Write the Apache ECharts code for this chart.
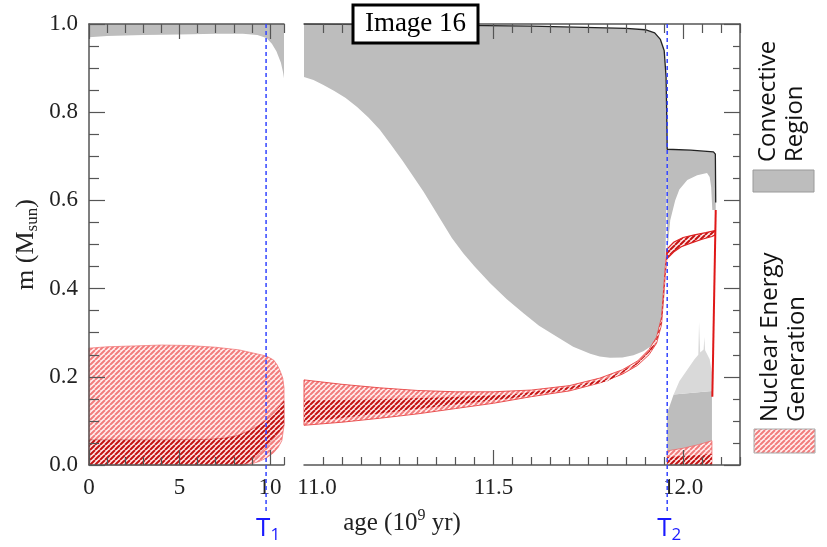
<!DOCTYPE html>
<html>
<head>
<meta charset="UTF-8">
<title>Kippenhahn diagram</title>
<script src="https://cdn.jsdelivr.net/npm/echarts@6/dist/echarts.min.js"></script>
<style>
  html, body { margin: 0; padding: 0; background: #fff; }
  #chart { width: 827px; height: 547px; }
</style>
</head>
<body>
<div id="chart"></div>
<script>
// ---- data: age in 10^9 yr, m in Msun ----
// ticks
const leftTicksMajor = [0, 5, 10];
const leftTicksMinor = [1, 2, 3, 4, 6, 7, 8, 9, 10.77];
const rightLabels = [11.0, 11.5, 12.0];
const rightTicksMajor = [11.5, 12.0];
const rightTicksMinor = [11.05, 11.1, 11.15, 11.2, 11.25, 11.3, 11.35, 11.4, 11.45, 11.55, 11.6, 11.65,
  11.7, 11.75, 11.8, 11.85, 11.9, 11.95, 12.05, 12.1, 12.15];

// left panel (main sequence)
const leftEnvTop = [[0, 1.0], [10.77, 1.0]];
const leftEnvBase = [[10.77, 0.877], [10.72, 0.89], [10.6, 0.912], [10.35, 0.938], [10.1, 0.955], [9.8, 0.968],
  [9.3, 0.975], [8.5, 0.978], [7, 0.978], [5, 0.976], [3, 0.975], [1, 0.973], [0, 0.97]];
const leftNucOuter = [[0, 0], [0, 0.265], [1, 0.268], [2.5, 0.27], [4, 0.272], [5.5, 0.271], [7, 0.267],
  [8.3, 0.261], [9.8, 0.247], [10.2, 0.238], [10.39, 0.227], [10.55, 0.214], [10.7, 0.197], [10.77, 0.175],
  [10.77, 0.09], [10.65, 0.055], [10.45, 0.04], [10.2, 0.028], [9.8, 0.016], [9.4, 0.008], [9.0, 0.003], [8.6, 0]];
const leftNucInner = [[0, 0], [0, 0.057], [4, 0.057], [6.5, 0.058], [7.5, 0.061], [8.2, 0.067], [8.8, 0.077],
  [9.3, 0.088], [9.8, 0.102], [10.3, 0.122], [10.77, 0.145], [10.77, 0.09], [10.5, 0.074], [10.2, 0.06],
  [9.7, 0.038], [9.2, 0.018], [8.7, 0.004], [8.4, 0]];

// right panel (red giant branch and after)
const rightEnvTop = [[11.0, 1.0], [11.3, 0.998], [11.6, 0.995], [11.85, 0.99], [11.9, 0.987], [11.925, 0.98],
  [11.94, 0.965], [11.95, 0.94], [11.955, 0.88], [11.957, 0.78], [11.958, 0.716]];
const rightEnvBase = [[11.958, 0.716], [11.956, 0.6], [11.953, 0.449], [11.95, 0.38], [11.945, 0.336],
  [11.935, 0.3], [11.925, 0.281], [11.913, 0.268], [11.895, 0.258], [11.869, 0.249], [11.84, 0.244],
  [11.807, 0.243], [11.78, 0.246], [11.755, 0.252], [11.71, 0.268], [11.667, 0.291], [11.62, 0.316],
  [11.579, 0.344], [11.535, 0.376], [11.491, 0.412], [11.45, 0.45], [11.42, 0.48], [11.39, 0.515],
  [11.365, 0.55], [11.34, 0.585], [11.315, 0.62], [11.29, 0.652], [11.26, 0.69], [11.227, 0.729],
  [11.2, 0.76], [11.17, 0.788], [11.14, 0.812], [11.11, 0.832], [11.08, 0.848], [11.05, 0.862],
  [11.025, 0.873], [11.0, 0.88]];
const postUpperGray = [[11.958, 0.716], [12.02, 0.714], [12.08, 0.71], [12.086, 0.705], [12.086, 0.578],
  [12.077, 0.578], [12.074, 0.63], [12.07, 0.653], [12.063, 0.662], [12.037, 0.657], [12.011, 0.646],
  [11.99, 0.625], [11.979, 0.6], [11.966, 0.555], [11.96, 0.5], [11.958, 0.48]];
const postLowerDark = [[11.958, 0.03], [11.958, 0.118], [11.975, 0.16], [12.076, 0.168], [12.076, 0.03]];
const postLowerLight = [[11.975, 0.16], [11.99, 0.19], [12.01, 0.215], [12.03, 0.24], [12.04, 0.25],
  [12.042, 0.324], [12.045, 0.255], [12.054, 0.262], [12.056, 0.29], [12.058, 0.26], [12.07, 0.24],
  [12.076, 0.21], [12.076, 0.168]];
const postNucOuter = [[11.958, 0], [11.958, 0.032], [12.0, 0.038], [12.04, 0.046], [12.076, 0.055], [12.076, 0]];
const postNucInner = [[11.958, 0], [11.958, 0.018], [12.076, 0.025], [12.076, 0]];

const shellTop = [[11.0, 0.193], [11.1, 0.183], [11.2, 0.175], [11.3, 0.169], [11.4, 0.166], [11.5, 0.166],
  [11.6, 0.17], [11.7, 0.18], [11.78, 0.197], [11.84, 0.216], [11.88, 0.236], [11.91, 0.262], [11.93, 0.29],
  [11.943, 0.335], [11.953, 0.45], [11.957, 0.49]];
const shellBottom = [[11.957, 0.468], [11.953, 0.43], [11.943, 0.318], [11.93, 0.276], [11.91, 0.25],
  [11.88, 0.226], [11.84, 0.206], [11.78, 0.186], [11.7, 0.168], [11.6, 0.155], [11.5, 0.14], [11.4, 0.128],
  [11.3, 0.116], [11.2, 0.106], [11.1, 0.097], [11.0, 0.09]];
const shellCoreTop = [[11.0, 0.146], [11.2, 0.149], [11.4, 0.154], [11.55, 0.16], [11.7, 0.177],
  [11.8, 0.196], [11.88, 0.232], [11.91, 0.258], [11.93, 0.286], [11.943, 0.33], [11.953, 0.445], [11.957, 0.485]];
const shellCoreBottom = [[11.957, 0.472], [11.953, 0.435], [11.943, 0.322], [11.93, 0.28], [11.91, 0.253],
  [11.88, 0.229], [11.8, 0.19], [11.7, 0.171], [11.55, 0.152], [11.4, 0.137], [11.2, 0.117], [11.0, 0.097]];
const postShellTop = [[11.958, 0.49], [11.975, 0.505], [12.0, 0.516], [12.03, 0.522], [12.06, 0.527], [12.085, 0.532]];
const postShellBottom = [[12.085, 0.522], [12.076, 0.518], [12.05, 0.512], [12.02, 0.503], [11.995, 0.495],
  [11.975, 0.483], [11.958, 0.468]];

const massLine = [[11.0, 1.0], [11.3, 0.998], [11.6, 0.995], [11.85, 0.99], [11.9, 0.987], [11.925, 0.98],
  [11.94, 0.965], [11.95, 0.94], [11.955, 0.88], [11.957, 0.78], [11.958, 0.716], [12.02, 0.714],
  [12.08, 0.71], [12.085, 0.705], [12.086, 0.595]];
const redDrop = [[12.086, 0.578], [12.077, 0.155]];

const tAges = [9.78, 11.958];
const tNames = ['1', '2'];

// ---- styles ----
const axisColor = '#555';
const serif = '"Liberation Serif", "Times New Roman", serif';
const gray = '#bdbdbd';
const lightGray = '#d9d9d9';

function hatch(bg, fg, s, w) {
  const c = document.createElement('canvas');
  c.width = s; c.height = s;
  const g = c.getContext('2d');
  g.fillStyle = bg;
  g.fillRect(0, 0, s, s);
  g.strokeStyle = fg;
  g.lineWidth = w;
  g.beginPath();
  for (let k = -1; k <= 1; k++) { g.moveTo(k * s, s); g.lineTo(k * s + s, 0); }
  g.stroke();
  return c;
}
const hatchLight = { image: hatch('#fff0f0', '#f27c7c', 5, 2), repeat: 'repeat' };
const hatchDark = { image: hatch('#fde8e8', '#c41212', 5, 2), repeat: 'repeat' };

function poly(pts, grid, fill, stroke, lw) {
  return {
    type: 'custom',
    coordinateSystem: 'cartesian2d',
    xAxisIndex: grid === 0 ? 0 : 4,
    yAxisIndex: grid,
    silent: true,
    data: [0],
    renderItem: function (params, api) {
      return {
        type: 'polygon',
        shape: { points: pts.map(function (p) { return api.coord(p); }) },
        style: { fill: fill, stroke: stroke || null, lineWidth: lw || 0 }
      };
    }
  };
}

function tLine(i) {
  return {
    type: 'custom',
    coordinateSystem: 'cartesian2d',
    xAxisIndex: i === 0 ? 0 : 4,
    yAxisIndex: i,
    silent: true,
    clip: false,
    z: 10,
    data: [0],
    renderItem: function (params, api) {
      const top = api.coord([tAges[i], 1.0]);
      const bot = api.coord([tAges[i], 0]);
      return {
        type: 'group',
        children: [
          { type: 'line', shape: { x1: top[0], y1: top[1], x2: bot[0], y2: bot[1] + 48 },
            style: { stroke: '#3344ff', lineWidth: 1.5, lineDash: [4, 3] } },
          { type: 'text', x: bot[0] + 2, y: bot[1] + 64,
            style: { text: '{t|T}{s|' + tNames[i] + '}', align: 'center', verticalAlign: 'middle',
              rich: {
                t: { fontSize: 26, fontFamily: 'Open Sans', fill: '#1a1aff', lineHeight: 30 },
                s: { fontSize: 17, fontFamily: 'Open Sans', fill: '#1a1aff', verticalAlign: 'bottom', lineHeight: 22 }
              } } }
        ]
      };
    }
  };
}

const labelRich = {
  n: { fontSize: 23, fontFamily: serif, color: '#222' },
  m: { fontSize: 23, fontFamily: serif, color: '#222', padding: [0, 0, 0, 26] }
};

function xAxes(grid, min, max, major, minor, labels, fmt) {
  const line = { show: true, onZero: false, lineStyle: { color: axisColor, width: 1.5 } };
  const noLine = { show: false, onZero: false };
  function tick(vals, len) {
    return { show: true, inside: true, length: len, customValues: vals, lineStyle: { color: axisColor, width: 1.2 } };
  }
  function ax(pos, l, t, lab) {
    return { type: 'value', gridIndex: grid, position: pos, min: min, max: max, z: 5,
      splitLine: { show: false }, axisLine: l, axisTick: t, axisLabel: lab };
  }
  return [
    ax('bottom', line, tick(major, 15), {
      show: true, customValues: labels, formatter: fmt, margin: 11,
      fontSize: 23, fontFamily: serif, color: '#222', rich: labelRich
    }),
    ax('bottom', noLine, tick(minor, 8), { show: false }),
    ax('top', line, tick(major, 15), { show: false }),
    ax('top', noLine, tick(minor, 9), { show: false })
  ];
}

const chart = echarts.init(document.getElementById('chart'));

const option = {
  animation: false,
  textStyle: { fontFamily: serif },
  grid: [
    { left: 89, top: 24, width: 195, height: 441 },
    { left: 304, top: 24, width: 436, height: 441 }
  ],
  xAxis: [].concat(
    xAxes(0, 0, 10.77, leftTicksMajor, leftTicksMinor, leftTicksMajor,
      function (v) { return '{n|' + Math.round(v) + '}'; }),
    xAxes(1, 11.0, 12.15, rightTicksMajor, rightTicksMinor, rightLabels,
      function (v) { return Math.abs(v - 11) < 1e-6 ? '{m|11.0}' : '{n|' + v.toFixed(1) + '}'; })
  ),
  yAxis: [
    {
      type: 'value', gridIndex: 0, position: 'left', min: 0, max: 1, interval: 0.2, z: 5,
      splitLine: { show: false },
      axisLine: { show: true, onZero: false, lineStyle: { color: axisColor, width: 1.5 } },
      axisTick: { show: true, inside: true, length: 16, lineStyle: { color: axisColor, width: 1.2 } },
      minorTick: { show: true, splitNumber: 4, length: 10, lineStyle: { color: axisColor, width: 1.2 } },
      axisLabel: { formatter: function (v) { return '{n|' + v.toFixed(1) + '}'; }, margin: 11,
        fontSize: 23, fontFamily: serif, color: '#222', rich: labelRich },
      name: '{a|m (M}{b|sun}{a|)}',
      nameLocation: 'middle', nameRotate: 90, nameGap: 48,
      nameTextStyle: {
        rich: {
          a: { fontSize: 26, fontFamily: serif, color: '#222', lineHeight: 30 },
          b: { fontSize: 17, fontFamily: serif, color: '#222', verticalAlign: 'bottom', lineHeight: 22 }
        }
      }
    },
    {
      type: 'value', gridIndex: 1, position: 'right', min: 0, max: 1, interval: 0.2, z: 5,
      splitLine: { show: false },
      axisLine: { show: true, onZero: false, lineStyle: { color: axisColor, width: 1.5 } },
      axisTick: { show: true, inside: true, length: 16, lineStyle: { color: axisColor, width: 1.2 } },
      minorTick: { show: true, splitNumber: 4, length: 7, lineStyle: { color: axisColor, width: 1.2 } },
      axisLabel: { show: false }
    }
  ],
  series: [
    // convective regions
    poly(leftEnvTop.concat(leftEnvBase), 0, gray),
    poly(rightEnvTop.concat(rightEnvBase.slice(1)), 1, gray),
    poly(postUpperGray, 1, gray),
    poly(postLowerDark, 1, gray),
    poly(postLowerLight, 1, lightGray),
    // nuclear energy generation
    poly(leftNucOuter, 0, hatchLight, 'rgba(240,110,110,0.7)', 1),
    poly(leftNucInner, 0, hatchDark, 'rgba(190,20,20,0.5)', 0.8),
    poly(postNucOuter, 1, hatchLight, 'rgba(240,110,110,0.8)', 1),
    poly(postNucInner, 1, hatchDark),
    poly(shellTop.concat(shellBottom), 1, hatchLight, 'rgba(230,60,60,0.85)', 1),
    poly(shellCoreTop.concat(shellCoreBottom), 1, hatchDark),
    poly(postShellTop.concat(postShellBottom), 1, hatchDark, '#dd2222', 1.2),
    {
      type: 'line', xAxisIndex: 4, yAxisIndex: 1, data: massLine, showSymbol: false, silent: true, z: 3,
      lineStyle: { color: '#222', width: 1.3 }
    },
    {
      type: 'line', xAxisIndex: 4, yAxisIndex: 1, data: redDrop, showSymbol: false, silent: true, z: 3,
      lineStyle: { color: '#e01818', width: 2 }
    },
    tLine(0),
    tLine(1)
  ],
  graphic: [
    { type: 'rect', z: 100, shape: { x: 353, y: 5, width: 125, height: 38 },
      style: { fill: '#fff', stroke: '#000', lineWidth: 3 } },
    { type: 'text', z: 101, x: 415.5, y: 24,
      style: { text: 'Image 16', font: '27px "Liberation Serif"', fill: '#000',
        align: 'center', verticalAlign: 'middle', textAlign: 'center', textVerticalAlign: 'middle' } },
    {
      type: 'text', x: 402, y: 523, z: 100,
      style: {
        text: '{a|age (10}{s|9}{a| yr)}', align: 'center', verticalAlign: 'middle',
        textAlign: 'center', textVerticalAlign: 'middle',
        rich: {
          a: { fontSize: 25, fontFamily: serif, fill: '#222', lineHeight: 30 },
          s: { fontSize: 16, fontFamily: serif, fill: '#222', verticalAlign: 'top', lineHeight: 22 }
        }
      }
    },
    // legend
    { type: 'rect', z: 100, shape: { x: 753, y: 170, width: 61, height: 22 },
      style: { fill: gray, stroke: '#9a9a9a', lineWidth: 1 } },
    { type: 'text', z: 100, x: 755, y: 162, rotation: Math.PI / 2,
      style: { text: 'Convective\nRegion', font: '24px "Open Sans"', fill: '#111', lineHeight: 27,
        align: 'left', verticalAlign: 'top', textAlign: 'left', textVerticalAlign: 'top' } },
    { type: 'rect', z: 100, shape: { x: 754, y: 429, width: 61, height: 24 },
      style: { fill: hatchLight, stroke: '#a8a8a8', lineWidth: 1 } },
    { type: 'text', z: 100, x: 757, y: 422, rotation: Math.PI / 2,
      style: { text: 'Nuclear Energy\nGeneration', font: '24px "Open Sans"', fill: '#111', lineHeight: 27,
        align: 'left', verticalAlign: 'top', textAlign: 'left', textVerticalAlign: 'top' } }
  ]
};

chart.setOption(option);
</script>
</body>
</html>
